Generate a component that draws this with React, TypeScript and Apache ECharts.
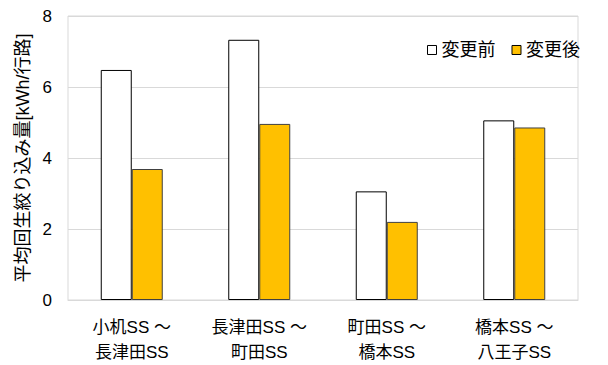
import React, { useEffect, useRef } from "react";
import * as echarts from "echarts";

const categories = ["小机SS ～\n長津田SS", "長津田SS ～\n町田SS", "町田SS ～\n橋本SS", "橋本SS ～\n八王子SS"];
const beforeValues = [6.48, 7.33, 3.06, 5.06];
const afterValues = [3.69, 4.96, 2.2, 4.86];
const seriesNames = ["変更前", "変更後"];
const yAxisName = "平均回生絞り込み量[kWh/行路]";

const FONT = "'Liberation Sans', 'Noto Sans CJK JP', sans-serif";

export default function App() {
  const ref = useRef<HTMLDivElement>(null);
  useEffect(() => {
    const chart = echarts.init(ref.current!, null, { renderer: "svg" });
    chart.setOption({
      animation: false,
      backgroundColor: "#fff",
      textStyle: { fontFamily: FONT },
      grid: {
        left: 68,
        right: 30,
        top: 16,
        bottom: 61,
        show: true,
        borderColor: "#d9d9d9",
        borderWidth: 1,
      },
      legend: {
        left: 422,
        top: 36,
        icon: "rect",
        itemWidth: 9,
        itemHeight: 9,
        itemGap: 16,
        textStyle: { fontSize: 18, color: "#000", fontFamily: FONT },
        data: [
          { name: seriesNames[0], itemStyle: { color: "#fff", borderColor: "#000", borderWidth: 1 } },
          { name: seriesNames[1], itemStyle: { color: "#FFC000", borderColor: "#000", borderWidth: 1 } },
        ],
      },
      xAxis: {
        type: "category",
        data: categories,
        axisLine: { lineStyle: { color: "#d9d9d9" } },
        axisTick: { show: false },
        axisLabel: {
          color: "#000",
          fontSize: 17,
          lineHeight: 25,
          margin: 15,
          fontFamily: FONT,
        },
      },
      yAxis: {
        type: "value",
        min: 0,
        max: 8,
        interval: 2,
        name: yAxisName,
        nameLocation: "middle",
        nameGap: 33,
        nameRotate: 90,
        nameTextStyle: { color: "#000", fontSize: 18, fontFamily: FONT },
        axisLine: { show: false },
        axisTick: { show: false },
        splitLine: { lineStyle: { color: "#d9d9d9" } },
        axisLabel: { color: "#000", fontSize: 17, margin: 16, fontFamily: FONT },
      },
      series: [
        {
          name: seriesNames[0],
          type: "bar",
          data: beforeValues,
          barWidth: 31,
          barGap: "0%",
          itemStyle: { color: "#fff", borderColor: "#000", borderWidth: 1 },
        },
        {
          name: seriesNames[1],
          type: "bar",
          data: afterValues,
          barWidth: 31,
          barGap: "0%",
          itemStyle: { color: "#FFC000", borderColor: "#404040", borderWidth: 1 },
        },
      ],
    });
    return () => chart.dispose();
  }, []);
  return (
    <div style={{ position: "fixed", left: 0, top: 0, width: 608, height: 365, background: "#fff" }}>
      <div ref={ref} style={{ width: 608, height: 365 }} />
    </div>
  );
}
